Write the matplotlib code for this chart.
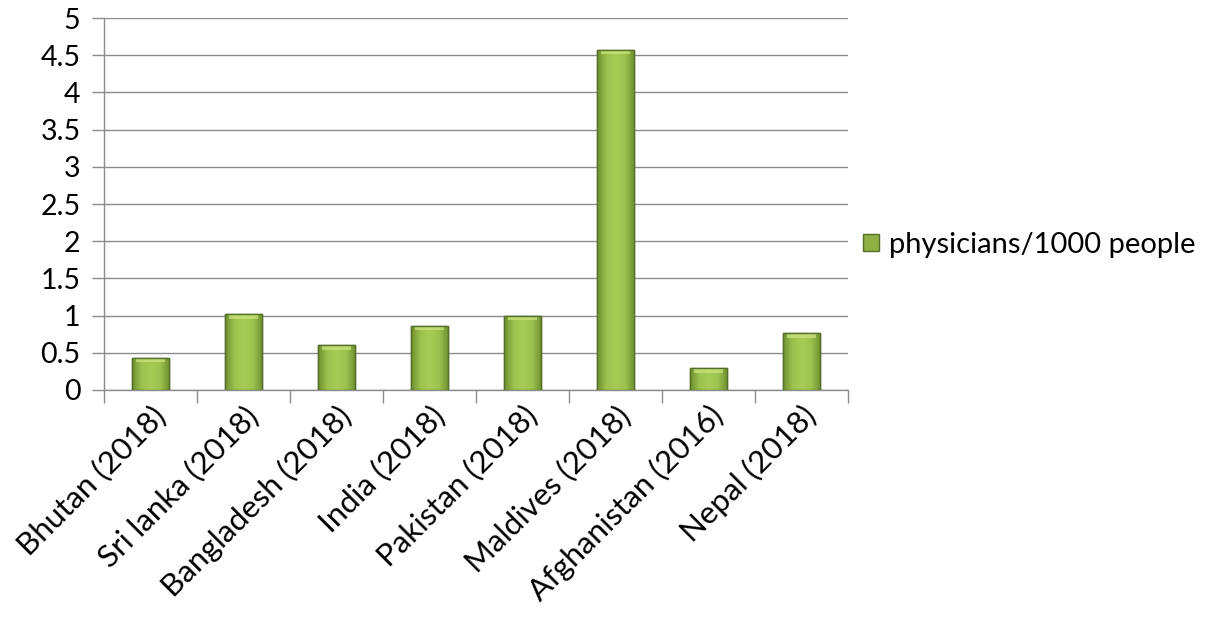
import numpy as np
import matplotlib.pyplot as plt
from matplotlib.colors import LinearSegmentedColormap

# Data
countries = ['Bhutan (2018)', 'Sri lanka (2018)', 'Bangladesh (2018)', 'India (2018)',
             'Pakistan (2018)', 'Maldives (2018)', 'Afghanistan (2016)', 'Nepal (2018)']
physicians = [0.43, 1.02, 0.60, 0.86, 1.00, 4.57, 0.29, 0.76]
series_name = 'physicians/1000 people'

plt.rcParams['font.family'] = ['Lato', 'DejaVu Sans']

fig = plt.figure(figsize=(12.18, 6.22), dpi=100)
ax = fig.add_axes([0.0854, 0.373, 0.6108, 0.598])

x = np.arange(len(countries))
bars = ax.bar(x, physicians, width=0.4, color='#8FB043', edgecolor='#55702a',
              linewidth=1.0, zorder=3, label=series_name)

# shaded look on each bar (light in the middle, darker at the edges)
cmap = LinearSegmentedColormap.from_list('bevel', ['#6f8f2e', '#9cc24f', '#a6cc55', '#9cc24f', '#6f8f2e'])
grad = np.linspace(0, 1, 64).reshape(1, -1)
for b in bars:
    bx, by = b.get_x(), b.get_y()
    w, h = b.get_width(), b.get_height()
    im = ax.imshow(grad, cmap=cmap, aspect='auto', extent=[bx, bx + w, by, by + h],
                   zorder=3.5)
    im.set_clip_path(b)
    # light top bevel
    ax.fill_between([bx + w * 0.12, bx + w * 0.88], by + h - 0.06, by + h - 0.012,
                    color='#c6e27a', alpha=0.8, zorder=3.6, linewidth=0)
    ax.add_patch(plt.Rectangle((bx, by), w, h, fill=False, edgecolor='#55702a',
                               linewidth=1.0, zorder=3.7))

ax.set_xlim(-0.5, len(countries) - 0.5)
ax.set_ylim(0, 5)
ax.set_yticks(np.arange(0, 5.01, 0.5))
ax.set_yticklabels(['0', '0.5', '1', '1.5', '2', '2.5', '3', '3.5', '4', '4.5', '5'])
ax.yaxis.grid(True, color='#8c8c8c', linewidth=1.0, zorder=0)
ax.set_axisbelow(True)

ax.set_xticks(x)
ax.set_xticklabels(countries, rotation=45, ha='right', rotation_mode='anchor')
ax.set_xticks(np.arange(-0.5, len(countries)), minor=True)
ax.tick_params(axis='x', which='major', length=0, pad=8, labelsize=22.5)
ax.tick_params(axis='x', which='minor', length=9, color='#8c8c8c', width=1.0)
ax.tick_params(axis='y', length=9, color='#8c8c8c', width=1.0, labelsize=20.5, pad=8)

for s in ['top', 'right']:
    ax.spines[s].set_visible(False)
for s in ['left', 'bottom']:
    ax.spines[s].set_color('#8c8c8c')
    ax.spines[s].set_linewidth(1.0)

leg = ax.legend(loc='center left', bbox_to_anchor=(0.985, 0.39), frameon=False,
                fontsize=21, handlelength=0.55, handleheight=0.55, handletextpad=0.35)

fig.savefig('out.png', dpi=100)
